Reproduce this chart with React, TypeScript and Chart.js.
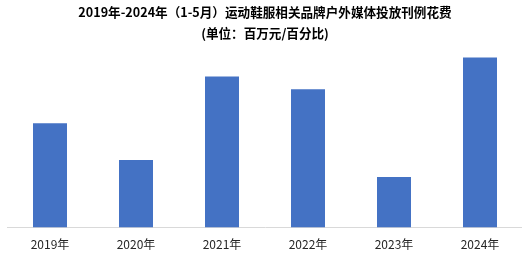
import React, { useEffect, useRef } from "react";
import { Chart, registerables } from "chart.js";

Chart.register(...registerables);

const categories = ["2019年", "2020年", "2021年", "2022年", "2023年", "2024年"];
const spending = [105, 68, 152, 139, 51, 171];
const titleLines = [
  "2019年-2024年（1-5月）运动鞋服相关品牌户外媒体投放刊例花费",
  "(单位：百万元/百分比)",
];

export default function App() {
  const ref = useRef<HTMLCanvasElement | null>(null);
  useEffect(() => {
    document.body.style.margin = "0";
    document.body.style.overflow = "hidden";
    const chart = new Chart(ref.current as HTMLCanvasElement, {
      type: "bar",
      data: {
        labels: categories,
        datasets: [
          {
            data: spending,
            backgroundColor: "#4472C4",
            categoryPercentage: 1,
            barPercentage: 34 / 86,
          },
        ],
      },
      options: {
        animation: false,
        responsive: true,
        maintainAspectRatio: false,
        layout: { padding: { left: 7, right: 0, top: 0, bottom: 0 } },
        plugins: {
          legend: { display: false },
          tooltip: { enabled: false },
          title: {
            display: true,
            text: titleLines,
            color: "#000",
            font: { family: "'Noto Sans CJK SC', sans-serif", size: 12.6, weight: "bold", lineHeight: 1.65 },
            padding: { top: 2, bottom: 5 },
          },
        },
        scales: {
          x: {
            grid: { display: false, drawTicks: false, tickLength: 0 },
            border: { display: true, color: "#d9d9d9", width: 1 },
            ticks: {
              color: "#262626",
              padding: 10,
              font: { family: "'Noto Sans CJK SC', sans-serif", size: 12 },
            },
          },
          y: {
            display: false,
            min: 0,
            max: 180,
          },
        },
      },
    });
    return () => chart.destroy();
  }, []);
  return (
    <div style={{ position: "fixed", left: 0, top: 0, width: 523, height: 262, background: "#fff" }}>
      <canvas ref={ref} />
    </div>
  );
}
